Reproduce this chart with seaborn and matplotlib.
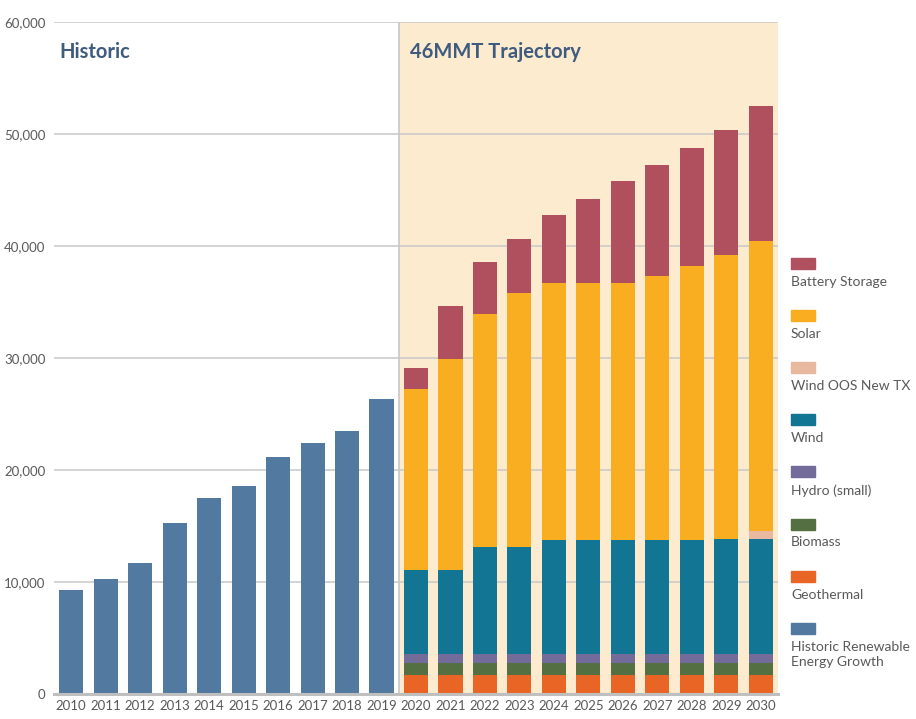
import matplotlib
matplotlib.use("Agg")
import matplotlib.pyplot as plt
from matplotlib.patches import Rectangle
import seaborn as sns
import pandas as pd
import numpy as np

years = [str(y) for y in range(2010, 2031)]
hist_years = [str(y) for y in range(2010, 2020)]
proj_years = [str(y) for y in range(2020, 2031)]

historic = [9270, 10250, 11680, 15300, 17530, 18600, 21190, 22440, 23510, 26360]

geothermal = [1700] * 11
biomass = [1100] * 11
hydro = [800] * 11
wind = [7500, 7500, 9560, 9560, 10180, 10180, 10180, 10180, 10180, 10270, 10270]
wind_oos = [0, 0, 0, 0, 0, 0, 0, 0, 0, 0, 720]
solar = [16150, 18830, 20780, 22660, 22930, 22930, 22930, 23550, 24440, 25340, 25870]
battery = [1880, 4730, 4640, 4810, 6060, 7490, 9090, 9900, 10530, 11150, 12040]

layers = ["Geothermal", "Biomass", "Hydro (small)", "Wind", "Wind OOS New TX", "Solar", "Battery Storage"]
layer_values = [geothermal, biomass, hydro, wind, wind_oos, solar, battery]
colors = {
    "Battery Storage": "#b0505e",
    "Solar": "#f9ae22",
    "Wind OOS New TX": "#e8b9a0",
    "Wind": "#117593",
    "Hydro (small)": "#736b9a",
    "Biomass": "#546f41",
    "Geothermal": "#e86526",
    "Historic Renewable\nEnergy Growth": "#527aa0",
}

sns.set_theme(style="white")
plt.rcParams['font.family'] = ['Lato', 'DejaVu Sans']

fig = plt.figure(figsize=(9.16, 7.19), dpi=100)
ax = fig.add_axes([54/916, 1 - 694/719, (778-54)/916, (694-22)/719])

# background shading for trajectory
ax.axvspan(9.5, 20.5, color="#fdebd0", zorder=0, lw=0)
ax.axvline(9.5, color="#c8c8c8", lw=1.2, zorder=1)

# gridlines
ax.set_axisbelow(True)
ax.yaxis.grid(True, color="#c8c8c8", lw=1.1, zorder=0.5)

df_hist = pd.DataFrame({"year": hist_years, "value": historic})
sns.barplot(data=df_hist, x="year", y="value", order=years, color=colors["Historic Renewable\nEnergy Growth"],
            saturation=1, width=0.7, ax=ax, zorder=2, linewidth=0, edgecolor="none")

cum = np.cumsum(np.array(layer_values), axis=0)
for i in range(len(layers) - 1, -1, -1):
    name = layers[i]
    df = pd.DataFrame({"year": proj_years, "value": cum[i]})
    sns.barplot(data=df, x="year", y="value", order=years, color=colors[name],
                saturation=1, width=0.7, ax=ax, zorder=2, linewidth=0, edgecolor="none")

ax.set_xlim(-0.5, 20.5)
ax.set_ylim(0, 60000)
ax.set_yticks(range(0, 60001, 10000))
ax.set_yticklabels([f"{v:,}" for v in range(0, 60001, 10000)])
ax.set_xlabel("")
ax.set_ylabel("")
ax.tick_params(axis="both", length=0, labelsize=9.5, colors="#595959", pad=6)
ax.tick_params(axis="x", pad=4)
for s in ["left", "right", "top"]:
    ax.spines[s].set_visible(False)
ax.spines["bottom"].set_color("#bfbfbf")
ax.spines["bottom"].set_linewidth(2.2)
ax.spines["bottom"].set_zorder(3)

ax.text(0.007, 0.955, "Historic", transform=ax.transAxes, fontsize=14.5, fontweight="bold",
        color="#3f5b7e", va="center", ha="left")
ax.text(9.83, 0.955, "46MMT Trajectory", transform=ax.get_xaxis_transform(), fontsize=14.5,
        fontweight="bold", color="#3f5b7e", va="center", ha="left")

# legend drawn manually (patch above label)
legend_items = ["Battery Storage", "Solar", "Wind OOS New TX", "Wind", "Hydro (small)",
                "Biomass", "Geothermal", "Historic Renewable\nEnergy Growth"]
W, H = 916, 719
for k, name in enumerate(legend_items):
    top = 258 + k * 52.1
    fig.patches.append(Rectangle((791/W, 1 - (top + 11)/H), 24/W, 11/H,
                                 transform=fig.transFigure, color=colors[name]))
    fig.text(791/W, 1 - (top + 18)/H, name, fontsize=10, color="#595959",
             va="top", ha="left", linespacing=1.35)

fig.savefig("out.png", dpi=100)
